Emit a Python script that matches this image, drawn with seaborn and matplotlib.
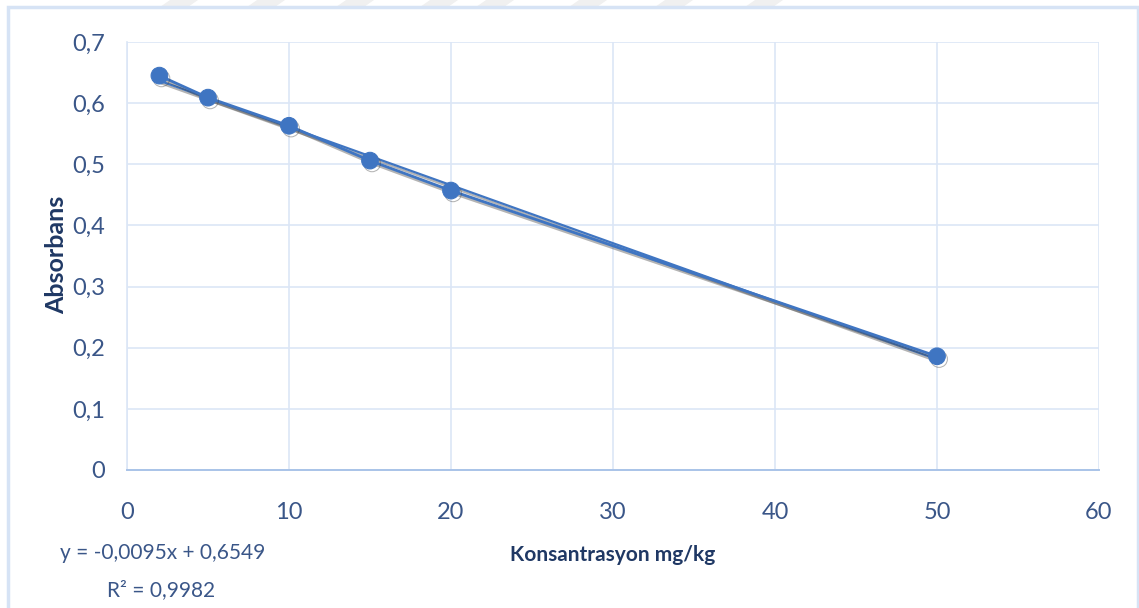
import matplotlib
matplotlib.use("Agg")
import matplotlib.pyplot as plt
import matplotlib.patheffects as pe
from matplotlib.patches import Rectangle, Polygon
import numpy as np
import pandas as pd
import seaborn as sns

# Calibration data
konsantrasyon = [2, 5, 10, 15, 20, 50]
absorbans = [0.645, 0.609, 0.563, 0.506, 0.457, 0.186]
x_ticks = [0, 10, 20, 30, 40, 50, 60]
y_ticks = [0, 0.1, 0.2, 0.3, 0.4, 0.5, 0.6, 0.7]
equation_text = "y = -0,0095x + 0,6549"
r2_text = "R² = 0,9982"

df = pd.DataFrame({"x": konsantrasyon, "y": absorbans})

sns.set_theme(style="white")
plt.rcParams["font.family"] = ["Lato", "DejaVu Sans"]

line_color = "#3f75c2"
text_color = "#3a5688"
label_color = "#1f3864"
grid_color = "#dbe6f6"

W, H = 1139, 608
fig = plt.figure(figsize=(W / 100, H / 100), dpi=100)
ax = fig.add_axes([127 / W, 1 - 470 / H, (1099 - 127) / W, (470 - 42) / H])

shadow = [pe.SimpleLineShadow(offset=(1.5, -2), shadow_color="#444444", alpha=0.4), pe.Normal()]

# measured points joined by a line
sns.lineplot(data=df, x="x", y="y", ax=ax, color=line_color, linewidth=2.0,
             marker="o", markersize=12, markeredgecolor=line_color,
             path_effects=shadow, zorder=3)
# linear trendline
sns.regplot(data=df, x="x", y="y", ax=ax, ci=None, scatter=False,
            line_kws={"color": line_color, "linewidth": 1.6, "path_effects": shadow, "zorder": 2})

ax.set_xlim(0, 60)
ax.set_ylim(0, 0.7)
ax.set_xticks(x_ticks)
ax.set_yticks(y_ticks)
ax.set_xticklabels([str(v) for v in x_ticks])
ax.set_yticklabels(["0" if v == 0 else f"{v:.1f}".replace(".", ",") for v in y_ticks])
ax.tick_params(axis="both", length=0, labelsize=17, labelcolor=text_color)
ax.tick_params(axis="x", pad=23)
ax.tick_params(axis="y", pad=16)

ax.grid(True, color=grid_color, linewidth=1.2)
ax.set_axisbelow(True)
for side in ["top", "right"]:
    ax.spines[side].set_visible(False)
ax.spines["left"].set_color(grid_color)
ax.spines["left"].set_linewidth(1.2)
ax.spines["bottom"].set_color("#a9c3e8")
ax.spines["bottom"].set_linewidth(1.4)

ax.set_xlabel("Konsantrasyon mg/kg", fontsize=15, color=label_color, fontweight="bold")
ax.xaxis.set_label_coords((613 - 127) / (1099 - 127), -(555 - 470) / (470 - 42), transform=ax.transAxes)
ax.xaxis.label.set_va("center")
ax.set_ylabel("Absorbans", fontsize=18, color=label_color, fontweight="bold")
ax.yaxis.set_label_coords(-(127 - 57) / (1099 - 127), (470 - 255) / (470 - 42))
ax.yaxis.label.set_va("center")

fig.text(60 / W, 1 - 553 / H, equation_text, fontsize=15, color=text_color,
         ha="left", va="center")
fig.text(107 / W, 1 - 590 / H, r2_text, fontsize=15, color=text_color,
         ha="left", va="center")

# chart frame
fig.patches.append(Rectangle((8 / W, -0.01), (1138 - 8) / W, 1 - 7 / H + 0.01,
                             transform=fig.transFigure, fill=False,
                             edgecolor="#d6e3f5", linewidth=2.5, zorder=1))

# faint stripes along the top edge
for x0 in [160, 247, 336, 420, 476, 569, 655, 745]:
    pts = [(x0 / W, 1 - 7 / H), ((x0 + 28) / W, 1 - 7 / H),
           ((x0 + 38) / W, 1.0), ((x0 + 10) / W, 1.0)]
    fig.patches.append(Polygon(pts, closed=True, transform=fig.transFigure,
                               facecolor="#f0f0f0", edgecolor="none", zorder=0))

fig.savefig("out.png", dpi=100, facecolor="white")
